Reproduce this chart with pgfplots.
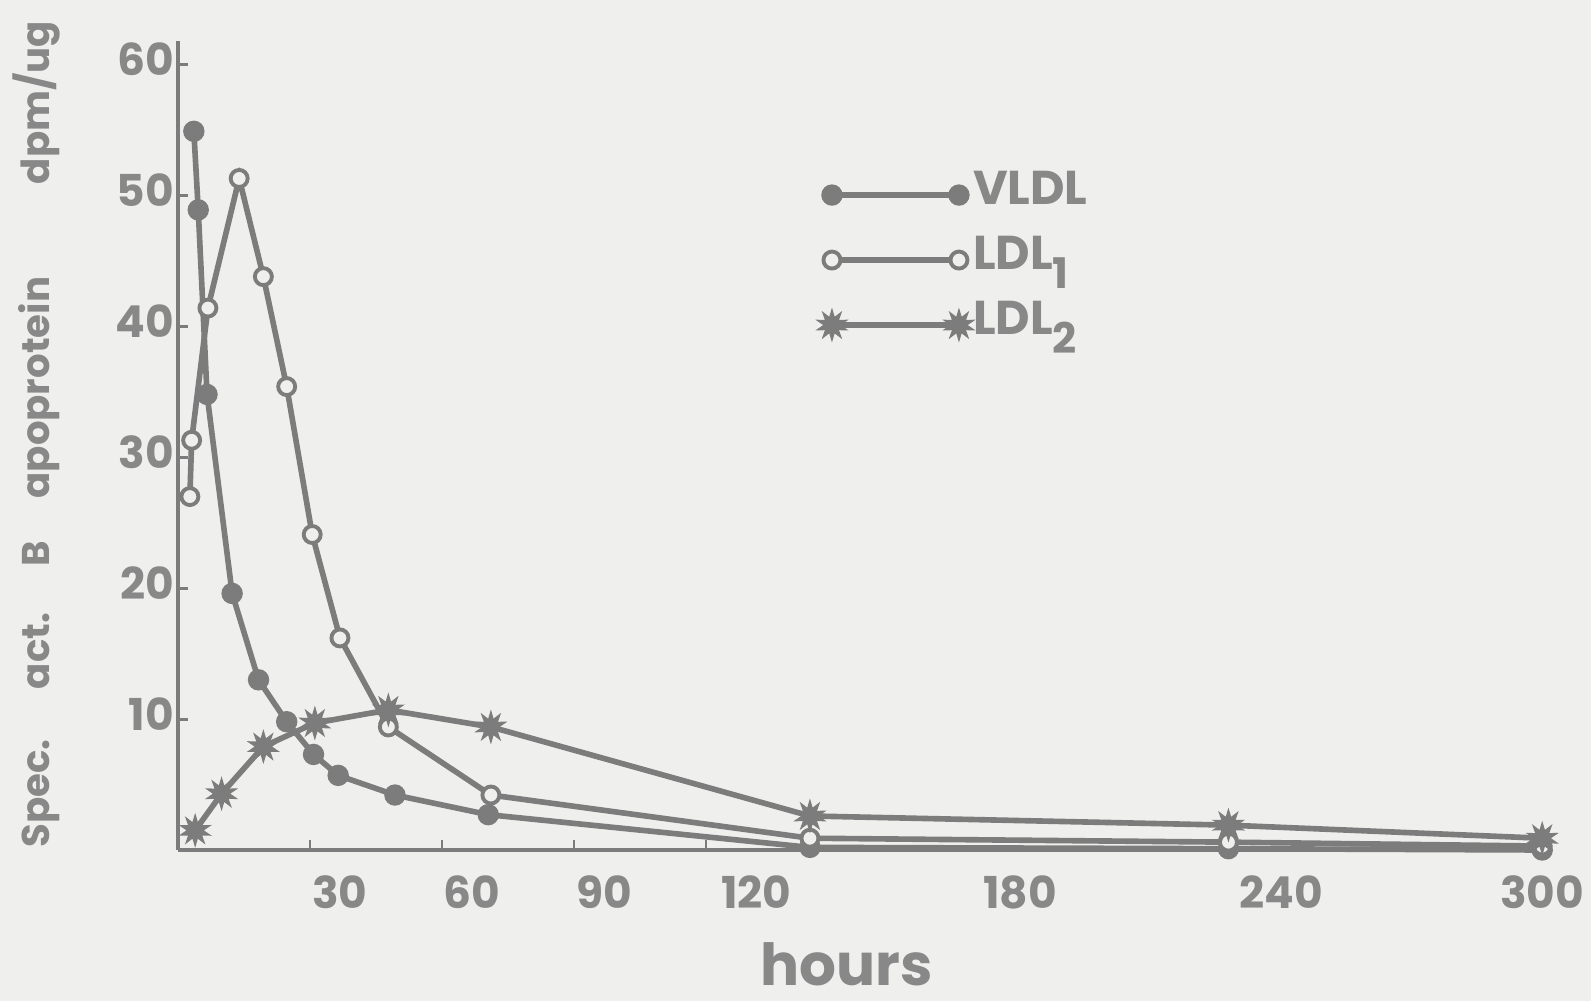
\documentclass[border=0pt]{standalone}
\usepackage{pgfplots}
\pgfplotsset{compat=1.18}
\usepackage{fontspec}
\setmainfont{Poppins}
\definecolor{bg}{HTML}{EFEFED}
\definecolor{ink}{HTML}{7C7C7C}
\definecolor{txt}{HTML}{888888}

% filled ten-point burst, like the LDL2 symbol
\pgfdeclareplotmark{burst}{%
  \pgfpathmoveto{\pgfpointpolar{90}{\pgfplotmarksize}}%
  \foreach \i in {1,...,19}{%
    \pgfmathsetmacro{\ang}{90+18*\i}%
    \ifodd\i
      \pgfpathlineto{\pgfpointpolar{\ang}{0.5\pgfplotmarksize}}%
    \else
      \pgfpathlineto{\pgfpointpolar{\ang}{\pgfplotmarksize}}%
    \fi
  }%
  \pgfpathclose
  \pgfusepathqfillstroke
}

\begin{document}
\begin{tikzpicture}
\fill[bg] (-1.78,-1.51) rectangle (14.13,8.50);
\path[use as bounding box] (-1.78,-1.51) rectangle (14.13,8.50);
\begin{axis}[
    width=13.73cm, height=8.09cm, scale only axis,
    xmin=0, xmax=312, ymin=0, ymax=61.8,
    clip=false,
    axis x line*=bottom, axis y line*=left,
    axis line style={ink, line width=0.9pt},
    tick align=inside,
    major tick length=0.1cm,
    xtick={36.8,66.8,96.8,131.4,191.3,250.7,310},
    xticklabels={30,60,90,120,180,240,300},
    xtick style={draw=none},
    extra x ticks={30,60,90,120},
    extra x tick labels={},
    extra x tick style={xtick style={draw=ink, line width=0.8pt}},
    ytick={10,20,30,40,50,60},
    ytick style={ink, line width=0.8pt},
    /pgf/number format/assume math mode=true,
    ticklabel style={font=\bfseries\fontsize{12.5}{13}\selectfont, text=txt},
    yticklabel style={inner sep=1pt, yshift=1.5pt},
    xticklabel style={yshift=-0.13cm},
    xlabel={hours},
    xlabel style={at={(axis description cs:0.487,-0.141)}, anchor=center,
        font=\bfseries\fontsize{16.5}{19}\selectfont, text=txt},
    ylabel={Spec.\hspace{1.3em}act.\hspace{1.2em}B\hspace{1.1em}apoprotein\hspace{2.4em}dpm/ug},
    ylabel style={at={(axis description cs:-0.1034,0.514)}, anchor=center,
        font=\bfseries\fontsize{11}{13}\selectfont, text=txt},
    legend cell align=left,
    legend image code/.code={\draw[#1] plot coordinates {(0cm,0cm) (1.27cm,0cm)};},
    legend style={at={(axis description cs:0.4654,0.837)}, anchor=north west,
        draw=none, fill=none, inner sep=0pt, row sep=0.22cm,
        font=\bfseries\fontsize{13.5}{15}\selectfont, text=txt,
        nodes={inner sep=0pt, text height=0.31cm, text depth=0.12cm},
        /tikz/every even column/.append style={column sep=0.18cm}},
]
% VLDL
\addplot[ink, line width=1.6pt, mark=*, mark size=0.1cm,
    mark options={fill=ink, draw=ink, line width=0.4pt}] coordinates {
    (3.6,54.9) (4.6,48.9) (6.6,34.8) (12.3,19.6) (18.3,13.0) (24.7,9.8)
    (30.8,7.3) (36.4,5.7) (49.3,4.2) (70.5,2.7) (143.6,0.2) (238.7,0.1) (310,0.0)
};
\addlegendentry{VLDL}
% LDL1
\addplot[ink, line width=1.6pt, mark=*, mark size=0.085cm,
    mark options={fill=bg, draw=ink, line width=1.1pt}] coordinates {
    (2.7,27.0) (3.1,31.3) (6.8,41.4) (13.9,51.3) (19.4,43.8) (24.7,35.4)
    (30.5,24.1) (36.8,16.2) (47.8,9.4) (71.1,4.2) (143.6,0.9) (238.7,0.6) (310,0.3)
};
\addlegendentry{LDL\raisebox{-0.4em}{\fontsize{12}{13}\selectfont 1}}
% LDL2
\addplot[ink, line width=1.6pt, mark=burst, mark size=0.15cm,
    mark options={fill=ink, draw=ink, line width=0.4pt}] coordinates {
    (3.9,1.5) (9.9,4.3) (19.4,7.9) (31.1,9.7) (47.8,10.7) (71.1,9.4)
    (143.6,2.6) (238.7,1.9) (310,0.9)
};
\addlegendentry{LDL\raisebox{-0.4em}{\fontsize{12}{13}\selectfont 2}}
\end{axis}
\end{tikzpicture}
\end{document}
